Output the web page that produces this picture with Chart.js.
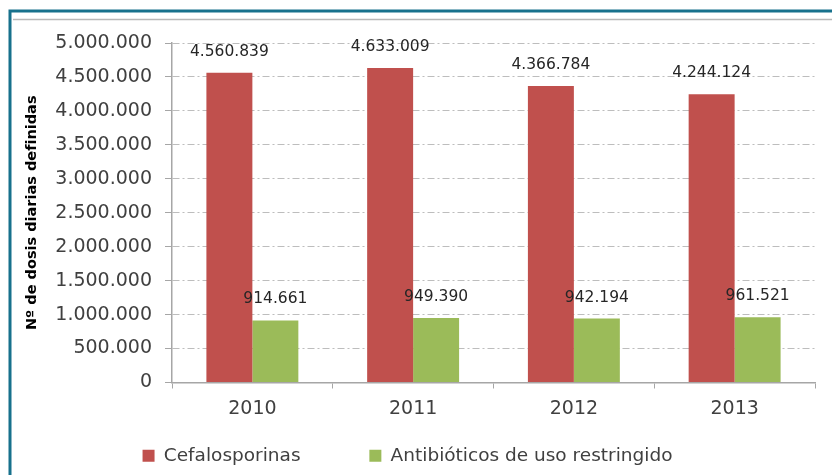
<html lang="es">
  <head>
    <meta charset="UTF-8" />
    <title>Dosis diarias definidas</title>
    <style>
      body { margin: 0; background: #fff; }
      canvas { display: block; }
    </style>
  </head>
  <body>
    <canvas id="myChart" width="832" height="475"></canvas>
    <script src="https://cdn.jsdelivr.net/npm/chart.js@4/dist/chart.umd.min.js"></script>
    <script>
        var years = ['2010', '2011', '2012', '2013'];
        var cefalosporinas = [4560839, 4633009, 4366784, 4244124];
        var restringidos = [914661, 949390, 942194, 961521];
        var yTicks = [0, 500000, 1000000, 1500000, 2000000, 2500000, 3000000, 3500000, 4000000, 4500000, 5000000];

        function miles(v) {
            return String(v).replace(/\B(?=(\d{3})+(?!\d))/g, '.');
        }

        // teal frame + grey rule at the top, like the original figure
        var frame = {
            id: 'frame',
            beforeDraw: function (chart) {
                var c = chart.ctx;
                c.save();
                c.fillStyle = '#fff';
                c.fillRect(0, 0, chart.width, chart.height);
                c.strokeStyle = '#17718c';
                c.lineWidth = 3;
                c.beginPath();
                c.moveTo(10, chart.height);
                c.lineTo(10, 11);
                c.lineTo(chart.width, 11);
                c.stroke();
                c.strokeStyle = '#b8b8b8';
                c.lineWidth = 1.5;
                c.beginPath();
                c.moveTo(13, 19.5);
                c.lineTo(chart.width, 19.5);
                c.stroke();
                c.restore();
            }
        };

        var valueLabels = {
            id: 'valueLabels',
            afterDatasetsDraw: function (chart) {
                var c = chart.ctx;
                c.save();
                c.font = '15.5px "DejaVu Sans"';
                c.fillStyle = '#262626';
                c.textAlign = 'center';
                c.textBaseline = 'middle';
                chart.data.datasets.forEach(function (ds, i) {
                    chart.getDatasetMeta(i).data.forEach(function (bar, j) {
                        c.fillText(miles(ds.data[j]), bar.x, bar.y - 21);
                    });
                });
                c.restore();
            }
        };

        var ctx = document.getElementById('myChart').getContext('2d');
        var myBarChart = new Chart(ctx, {
            type: 'bar',
            data: {
                labels: years,
                datasets: [{
                    label: 'Cefalosporinas',
                    data: cefalosporinas,
                    backgroundColor: '#c0504d'
                }, {
                    label: 'Antibióticos de uso restringido',
                    data: restringidos,
                    backgroundColor: '#9bbb59'
                }]
            },
            options: {
                responsive: false,
                animation: false,
                categoryPercentage: 0.572,
                barPercentage: 1,
                layout: { padding: { left: 0, right: 17, top: 43, bottom: 0 } },
                plugins: {
                    tooltip: { enabled: false },
                    legend: {
                        position: 'bottom',
                        labels: {
                            boxWidth: 12,
                            boxHeight: 12,
                            padding: 10,
                            color: '#404040',
                            font: { family: 'DejaVu Sans', size: 18.5 },
                            // wider gap between the two entries, as in the original
                            generateLabels: function (chart) {
                                var items = Chart.defaults.plugins.legend.labels.generateLabels(chart);
                                items[0].text = items[0].text + '          ';
                                return items;
                            }
                        }
                    }
                },
                scales: {
                    x: {
                        afterFit: function (s) { s.height = 54; },
                        border: { color: '#a6a6a6', width: 1.5 },
                        grid: {
                            offset: true,
                            drawOnChartArea: false,
                            tickLength: 6,
                            tickColor: '#a6a6a6'
                        },
                        ticks: {
                            padding: 9,
                            color: '#404040',
                            font: { family: 'DejaVu Sans', size: 19 }
                        }
                    },
                    y: {
                        min: 0,
                        max: 5000000,
                        afterFit: function (s) { s.width = 172; },
                        afterBuildTicks: function (s) {
                            s.ticks = yTicks.map(function (v) { return { value: v }; });
                        },
                        border: { color: '#a6a6a6', width: 1.5, dash: [7, 3, 2, 3] },
                        grid: {
                            color: '#bdbdbd',
                            tickBorderDash: [],
                            tickColor: '#a6a6a6',
                            tickLength: 7
                        },
                        ticks: {
                            padding: 13,
                            color: '#404040',
                            font: { family: 'DejaVu Sans', size: 19 },
                            callback: function (v) { return miles(v); }
                        },
                        title: {
                            display: true,
                            text: 'Nº de dosis diarias definidas',
                            color: '#000',
                            padding: { top: 24, bottom: 0 },
                            font: { family: 'DejaVu Sans', size: 14.5, weight: 'bold' }
                        }
                    }
                }
            },
            plugins: [frame, valueLabels]
        });
    </script>
  </body>
</html>
